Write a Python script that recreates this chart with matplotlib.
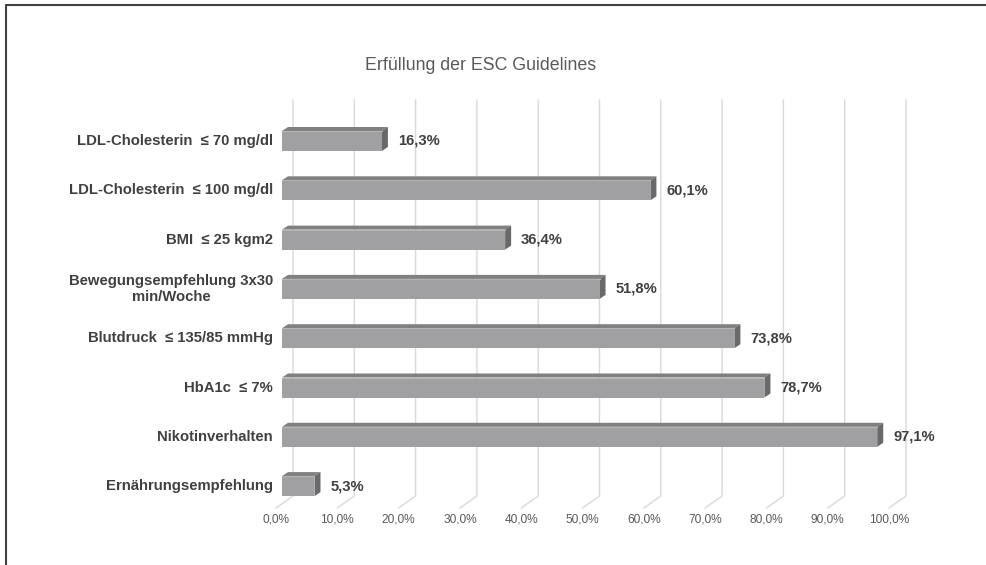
import matplotlib.pyplot as plt
from matplotlib.patches import Polygon, Rectangle

plt.rcParams["font.family"] = ["Liberation Sans", "DejaVu Sans"]

categories = [
    "LDL-Cholesterin  ≤ 70 mg/dl",
    "LDL-Cholesterin  ≤ 100 mg/dl",
    "BMI  ≤ 25 kgm2",
    "Bewegungsempfehlung 3x30\nmin/Woche",
    "Blutdruck  ≤ 135/85 mmHg",
    "HbA1c  ≤ 7%",
    "Nikotinverhalten",
    "Ernährungsempfehlung",
]
values = [16.3, 60.1, 36.4, 51.8, 73.8, 78.7, 97.1, 5.3]
ticks = [0, 10, 20, 30, 40, 50, 60, 70, 80, 90, 100]
title = "Erfüllung der ESC Guidelines"

W, H = 987, 565
fig = plt.figure(figsize=(W / 100, H / 100), dpi=100)
fig.patch.set_facecolor("white")

# axis covers the whole figure; data units: % along x, category index along y
px_x0, px_per_pct = 282, 6.13      # bar plane: 0% at 282 px
px_y0, px_per_cat = 141, 49.3      # first category centre
ax = fig.add_axes([0, 0, 1, 1])
ax.set_xlim(-px_x0 / px_per_pct, (W - px_x0) / px_per_pct)
ax.set_ylim((H - px_y0) / px_per_cat, -px_y0 / px_per_cat)
ax.axis("off")

def dx(px):
    return px / px_per_pct

def dy(px):
    return px / px_per_cat

# back wall gridlines with floor diagonals
grid_top, grid_bot, floor = dy(100 - px_y0), dy(496 - px_y0), dy(508 - px_y0)
for t in ticks:
    xb, xf = t + dx(11), t - dx(6)
    ax.plot([xb, xb, xf], [grid_top, grid_bot, floor], color="#d9d9d9", lw=1.0, zorder=1)
    ax.annotate(f"{t:.1f}%".replace(".", ","), (xf, floor), xytext=(0, -11),
                textcoords="offset pixels", ha="center", va="center",
                fontsize=8.6, color="#595959")

# 3d bars
bar_h = dy(20)
ddx, ddy = dx(6), dy(-4)
front_c, top_c, side_c = "#a0a0a2", "#808080", "#696969"
for i, v in enumerate(values):
    y0, y1 = i - bar_h / 2, i + bar_h / 2
    ax.add_patch(Polygon([(0, y0), (v, y0), (v + ddx, y0 + ddy), (ddx, y0 + ddy)],
                         closed=True, fc=top_c, ec="none", zorder=3))
    ax.add_patch(Polygon([(v, y0), (v + ddx, y0 + ddy), (v + ddx, y1 + ddy), (v, y1)],
                         closed=True, fc=side_c, ec="none", zorder=3))
    ax.add_patch(Rectangle((0, y0), v, bar_h, fc=front_c, ec="none", zorder=4))
    ax.plot([0, v], [y0, y0], color="#b4b4b4", lw=0.8, zorder=5)
    ax.annotate(f"{v:.1f}%".replace(".", ","), (v, i), xytext=(16, 0),
                textcoords="offset pixels", ha="left", va="center",
                fontsize=10.6, fontweight="bold", color="#404040")
    ax.annotate(categories[i], (0, i), xytext=(-9, 0), textcoords="offset pixels",
                ha="right", va="center", multialignment="center",
                fontsize=10.7, fontweight="bold", color="#404040", linespacing=1.25)

fig.text(481 / W, 1 - 65 / H, title, ha="center", va="center", fontsize=12.8, color="#595959")

# outer frame (top and left edges visible)
fig.add_artist(plt.Line2D([6 / W, 6 / W, 1], [0, 1 - 5 / H, 1 - 5 / H],
                          transform=fig.transFigure, color="#404040", lw=1.5))

fig.savefig("out.png", dpi=100)
